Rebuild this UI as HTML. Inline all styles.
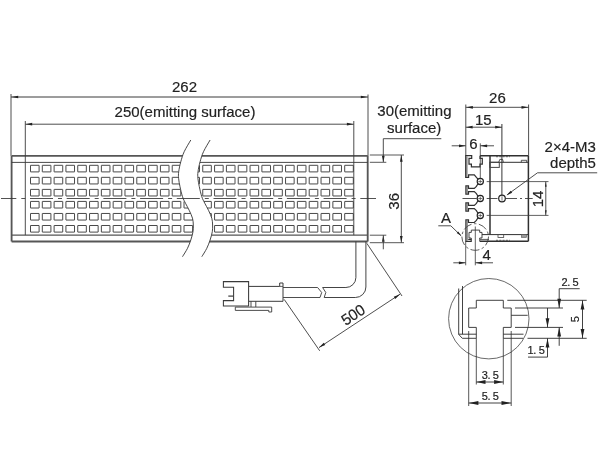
<!DOCTYPE html>
<html><head><meta charset="utf-8"><title>Dimension drawing</title>
<style>
html,body{margin:0;padding:0;background:#fff;}
body{width:600px;height:450px;overflow:hidden;}
svg{display:block;will-change:transform;filter:grayscale(1);}
text{font-family:"Liberation Sans",sans-serif;fill:#222;stroke:#222;stroke-width:0.18px;}
</style></head><body>
<svg width="600" height="450" viewBox="0 0 600 450">
<rect x="0" y="0" width="600" height="450" fill="#fff"/>
<line x1="11.60" y1="155.90" x2="367.70" y2="155.90" stroke="#565656" stroke-width="1.85" />
<line x1="11.60" y1="241.50" x2="367.70" y2="241.50" stroke="#565656" stroke-width="1.85" />
<line x1="11.60" y1="155.90" x2="11.60" y2="241.50" stroke="#565656" stroke-width="1.85" />
<line x1="367.70" y1="155.90" x2="367.70" y2="241.50" stroke="#565656" stroke-width="1.85" />
<line x1="11.60" y1="162.40" x2="367.70" y2="162.40" stroke="#333" stroke-width="0.9" />
<line x1="11.60" y1="235.10" x2="367.70" y2="235.10" stroke="#555" stroke-width="1.1" />
<defs><clipPath id="cl"><path d="M190.80,140.00 C189.70,141.95 185.87,148.08 184.20,151.70 C182.53,155.32 181.72,158.37 180.80,161.70 C179.88,165.03 179.07,168.93 178.70,171.70 C178.33,174.47 178.38,175.80 178.60,178.30 C178.82,180.80 179.35,183.63 180.00,186.70 C180.65,189.77 181.58,193.93 182.50,196.70 C183.42,199.47 184.38,201.03 185.50,203.30 C186.62,205.57 188.03,207.80 189.20,210.30 C190.37,212.80 191.82,215.85 192.50,218.30 C193.18,220.75 193.22,222.77 193.30,225.00 C193.38,227.23 193.42,229.20 193.00,231.70 C192.58,234.20 191.72,237.23 190.80,240.00 C189.88,242.77 188.88,245.52 187.50,248.30 C186.12,251.08 183.33,255.30 182.50,256.70 L0,256.7 L0,140 Z"/></clipPath><clipPath id="cr"><path d="M210.10,140.00 C209.00,141.95 205.17,148.08 203.50,151.70 C201.83,155.32 201.02,158.37 200.10,161.70 C199.18,165.03 198.37,168.93 198.00,171.70 C197.63,174.47 197.68,175.80 197.90,178.30 C198.12,180.80 198.65,183.63 199.30,186.70 C199.95,189.77 200.88,193.93 201.80,196.70 C202.72,199.47 203.68,201.03 204.80,203.30 C205.92,205.57 207.33,207.80 208.50,210.30 C209.67,212.80 211.12,215.85 211.80,218.30 C212.48,220.75 212.52,222.77 212.60,225.00 C212.68,227.23 212.72,229.20 212.30,231.70 C211.88,234.20 211.02,237.23 210.10,240.00 C209.18,242.77 208.18,245.52 206.80,248.30 C205.42,251.08 202.63,255.30 201.80,256.70 L400,256.7 L400,140 Z"/></clipPath></defs>
<g clip-path="url(#cl)" fill="none" stroke="#4a4a4a" stroke-width="1.0">
<rect x="30.50" y="165.30" width="8.6" height="6.6" rx="0.1"/>
<rect x="30.50" y="177.34" width="8.6" height="6.6" rx="0.1"/>
<rect x="30.50" y="189.38" width="8.6" height="6.6" rx="0.1"/>
<rect x="30.50" y="201.42" width="8.6" height="6.6" rx="0.1"/>
<rect x="30.50" y="213.46" width="8.6" height="6.6" rx="0.1"/>
<rect x="30.50" y="225.50" width="8.6" height="6.6" rx="0.1"/>
<rect x="42.31" y="165.30" width="8.6" height="6.6" rx="0.1"/>
<rect x="42.31" y="177.34" width="8.6" height="6.6" rx="0.1"/>
<rect x="42.31" y="189.38" width="8.6" height="6.6" rx="0.1"/>
<rect x="42.31" y="201.42" width="8.6" height="6.6" rx="0.1"/>
<rect x="42.31" y="213.46" width="8.6" height="6.6" rx="0.1"/>
<rect x="42.31" y="225.50" width="8.6" height="6.6" rx="0.1"/>
<rect x="54.12" y="165.30" width="8.6" height="6.6" rx="0.1"/>
<rect x="54.12" y="177.34" width="8.6" height="6.6" rx="0.1"/>
<rect x="54.12" y="189.38" width="8.6" height="6.6" rx="0.1"/>
<rect x="54.12" y="201.42" width="8.6" height="6.6" rx="0.1"/>
<rect x="54.12" y="213.46" width="8.6" height="6.6" rx="0.1"/>
<rect x="54.12" y="225.50" width="8.6" height="6.6" rx="0.1"/>
<rect x="65.93" y="165.30" width="8.6" height="6.6" rx="0.1"/>
<rect x="65.93" y="177.34" width="8.6" height="6.6" rx="0.1"/>
<rect x="65.93" y="189.38" width="8.6" height="6.6" rx="0.1"/>
<rect x="65.93" y="201.42" width="8.6" height="6.6" rx="0.1"/>
<rect x="65.93" y="213.46" width="8.6" height="6.6" rx="0.1"/>
<rect x="65.93" y="225.50" width="8.6" height="6.6" rx="0.1"/>
<rect x="77.74" y="165.30" width="8.6" height="6.6" rx="0.1"/>
<rect x="77.74" y="177.34" width="8.6" height="6.6" rx="0.1"/>
<rect x="77.74" y="189.38" width="8.6" height="6.6" rx="0.1"/>
<rect x="77.74" y="201.42" width="8.6" height="6.6" rx="0.1"/>
<rect x="77.74" y="213.46" width="8.6" height="6.6" rx="0.1"/>
<rect x="77.74" y="225.50" width="8.6" height="6.6" rx="0.1"/>
<rect x="89.55" y="165.30" width="8.6" height="6.6" rx="0.1"/>
<rect x="89.55" y="177.34" width="8.6" height="6.6" rx="0.1"/>
<rect x="89.55" y="189.38" width="8.6" height="6.6" rx="0.1"/>
<rect x="89.55" y="201.42" width="8.6" height="6.6" rx="0.1"/>
<rect x="89.55" y="213.46" width="8.6" height="6.6" rx="0.1"/>
<rect x="89.55" y="225.50" width="8.6" height="6.6" rx="0.1"/>
<rect x="101.36" y="165.30" width="8.6" height="6.6" rx="0.1"/>
<rect x="101.36" y="177.34" width="8.6" height="6.6" rx="0.1"/>
<rect x="101.36" y="189.38" width="8.6" height="6.6" rx="0.1"/>
<rect x="101.36" y="201.42" width="8.6" height="6.6" rx="0.1"/>
<rect x="101.36" y="213.46" width="8.6" height="6.6" rx="0.1"/>
<rect x="101.36" y="225.50" width="8.6" height="6.6" rx="0.1"/>
<rect x="113.17" y="165.30" width="8.6" height="6.6" rx="0.1"/>
<rect x="113.17" y="177.34" width="8.6" height="6.6" rx="0.1"/>
<rect x="113.17" y="189.38" width="8.6" height="6.6" rx="0.1"/>
<rect x="113.17" y="201.42" width="8.6" height="6.6" rx="0.1"/>
<rect x="113.17" y="213.46" width="8.6" height="6.6" rx="0.1"/>
<rect x="113.17" y="225.50" width="8.6" height="6.6" rx="0.1"/>
<rect x="124.98" y="165.30" width="8.6" height="6.6" rx="0.1"/>
<rect x="124.98" y="177.34" width="8.6" height="6.6" rx="0.1"/>
<rect x="124.98" y="189.38" width="8.6" height="6.6" rx="0.1"/>
<rect x="124.98" y="201.42" width="8.6" height="6.6" rx="0.1"/>
<rect x="124.98" y="213.46" width="8.6" height="6.6" rx="0.1"/>
<rect x="124.98" y="225.50" width="8.6" height="6.6" rx="0.1"/>
<rect x="136.79" y="165.30" width="8.6" height="6.6" rx="0.1"/>
<rect x="136.79" y="177.34" width="8.6" height="6.6" rx="0.1"/>
<rect x="136.79" y="189.38" width="8.6" height="6.6" rx="0.1"/>
<rect x="136.79" y="201.42" width="8.6" height="6.6" rx="0.1"/>
<rect x="136.79" y="213.46" width="8.6" height="6.6" rx="0.1"/>
<rect x="136.79" y="225.50" width="8.6" height="6.6" rx="0.1"/>
<rect x="148.60" y="165.30" width="8.6" height="6.6" rx="0.1"/>
<rect x="148.60" y="177.34" width="8.6" height="6.6" rx="0.1"/>
<rect x="148.60" y="189.38" width="8.6" height="6.6" rx="0.1"/>
<rect x="148.60" y="201.42" width="8.6" height="6.6" rx="0.1"/>
<rect x="148.60" y="213.46" width="8.6" height="6.6" rx="0.1"/>
<rect x="148.60" y="225.50" width="8.6" height="6.6" rx="0.1"/>
<rect x="160.41" y="165.30" width="8.6" height="6.6" rx="0.1"/>
<rect x="160.41" y="177.34" width="8.6" height="6.6" rx="0.1"/>
<rect x="160.41" y="189.38" width="8.6" height="6.6" rx="0.1"/>
<rect x="160.41" y="201.42" width="8.6" height="6.6" rx="0.1"/>
<rect x="160.41" y="213.46" width="8.6" height="6.6" rx="0.1"/>
<rect x="160.41" y="225.50" width="8.6" height="6.6" rx="0.1"/>
<rect x="172.22" y="165.30" width="8.6" height="6.6" rx="0.1"/>
<rect x="172.22" y="177.34" width="8.6" height="6.6" rx="0.1"/>
<rect x="172.22" y="189.38" width="8.6" height="6.6" rx="0.1"/>
<rect x="172.22" y="201.42" width="8.6" height="6.6" rx="0.1"/>
<rect x="172.22" y="213.46" width="8.6" height="6.6" rx="0.1"/>
<rect x="172.22" y="225.50" width="8.6" height="6.6" rx="0.1"/>
<rect x="184.03" y="165.30" width="8.6" height="6.6" rx="0.1"/>
<rect x="184.03" y="177.34" width="8.6" height="6.6" rx="0.1"/>
<rect x="184.03" y="189.38" width="8.6" height="6.6" rx="0.1"/>
<rect x="184.03" y="201.42" width="8.6" height="6.6" rx="0.1"/>
<rect x="184.03" y="213.46" width="8.6" height="6.6" rx="0.1"/>
<rect x="184.03" y="225.50" width="8.6" height="6.6" rx="0.1"/>
</g>
<g clip-path="url(#cr)" fill="none" stroke="#4a4a4a" stroke-width="1.0">
<rect x="344.70" y="165.30" width="8.6" height="6.6" rx="0.1"/>
<rect x="344.70" y="177.34" width="8.6" height="6.6" rx="0.1"/>
<rect x="344.70" y="189.38" width="8.6" height="6.6" rx="0.1"/>
<rect x="344.70" y="201.42" width="8.6" height="6.6" rx="0.1"/>
<rect x="344.70" y="213.46" width="8.6" height="6.6" rx="0.1"/>
<rect x="344.70" y="225.50" width="8.6" height="6.6" rx="0.1"/>
<rect x="332.87" y="165.30" width="8.6" height="6.6" rx="0.1"/>
<rect x="332.87" y="177.34" width="8.6" height="6.6" rx="0.1"/>
<rect x="332.87" y="189.38" width="8.6" height="6.6" rx="0.1"/>
<rect x="332.87" y="201.42" width="8.6" height="6.6" rx="0.1"/>
<rect x="332.87" y="213.46" width="8.6" height="6.6" rx="0.1"/>
<rect x="332.87" y="225.50" width="8.6" height="6.6" rx="0.1"/>
<rect x="321.04" y="165.30" width="8.6" height="6.6" rx="0.1"/>
<rect x="321.04" y="177.34" width="8.6" height="6.6" rx="0.1"/>
<rect x="321.04" y="189.38" width="8.6" height="6.6" rx="0.1"/>
<rect x="321.04" y="201.42" width="8.6" height="6.6" rx="0.1"/>
<rect x="321.04" y="213.46" width="8.6" height="6.6" rx="0.1"/>
<rect x="321.04" y="225.50" width="8.6" height="6.6" rx="0.1"/>
<rect x="309.21" y="165.30" width="8.6" height="6.6" rx="0.1"/>
<rect x="309.21" y="177.34" width="8.6" height="6.6" rx="0.1"/>
<rect x="309.21" y="189.38" width="8.6" height="6.6" rx="0.1"/>
<rect x="309.21" y="201.42" width="8.6" height="6.6" rx="0.1"/>
<rect x="309.21" y="213.46" width="8.6" height="6.6" rx="0.1"/>
<rect x="309.21" y="225.50" width="8.6" height="6.6" rx="0.1"/>
<rect x="297.38" y="165.30" width="8.6" height="6.6" rx="0.1"/>
<rect x="297.38" y="177.34" width="8.6" height="6.6" rx="0.1"/>
<rect x="297.38" y="189.38" width="8.6" height="6.6" rx="0.1"/>
<rect x="297.38" y="201.42" width="8.6" height="6.6" rx="0.1"/>
<rect x="297.38" y="213.46" width="8.6" height="6.6" rx="0.1"/>
<rect x="297.38" y="225.50" width="8.6" height="6.6" rx="0.1"/>
<rect x="285.55" y="165.30" width="8.6" height="6.6" rx="0.1"/>
<rect x="285.55" y="177.34" width="8.6" height="6.6" rx="0.1"/>
<rect x="285.55" y="189.38" width="8.6" height="6.6" rx="0.1"/>
<rect x="285.55" y="201.42" width="8.6" height="6.6" rx="0.1"/>
<rect x="285.55" y="213.46" width="8.6" height="6.6" rx="0.1"/>
<rect x="285.55" y="225.50" width="8.6" height="6.6" rx="0.1"/>
<rect x="273.72" y="165.30" width="8.6" height="6.6" rx="0.1"/>
<rect x="273.72" y="177.34" width="8.6" height="6.6" rx="0.1"/>
<rect x="273.72" y="189.38" width="8.6" height="6.6" rx="0.1"/>
<rect x="273.72" y="201.42" width="8.6" height="6.6" rx="0.1"/>
<rect x="273.72" y="213.46" width="8.6" height="6.6" rx="0.1"/>
<rect x="273.72" y="225.50" width="8.6" height="6.6" rx="0.1"/>
<rect x="261.89" y="165.30" width="8.6" height="6.6" rx="0.1"/>
<rect x="261.89" y="177.34" width="8.6" height="6.6" rx="0.1"/>
<rect x="261.89" y="189.38" width="8.6" height="6.6" rx="0.1"/>
<rect x="261.89" y="201.42" width="8.6" height="6.6" rx="0.1"/>
<rect x="261.89" y="213.46" width="8.6" height="6.6" rx="0.1"/>
<rect x="261.89" y="225.50" width="8.6" height="6.6" rx="0.1"/>
<rect x="250.06" y="165.30" width="8.6" height="6.6" rx="0.1"/>
<rect x="250.06" y="177.34" width="8.6" height="6.6" rx="0.1"/>
<rect x="250.06" y="189.38" width="8.6" height="6.6" rx="0.1"/>
<rect x="250.06" y="201.42" width="8.6" height="6.6" rx="0.1"/>
<rect x="250.06" y="213.46" width="8.6" height="6.6" rx="0.1"/>
<rect x="250.06" y="225.50" width="8.6" height="6.6" rx="0.1"/>
<rect x="238.23" y="165.30" width="8.6" height="6.6" rx="0.1"/>
<rect x="238.23" y="177.34" width="8.6" height="6.6" rx="0.1"/>
<rect x="238.23" y="189.38" width="8.6" height="6.6" rx="0.1"/>
<rect x="238.23" y="201.42" width="8.6" height="6.6" rx="0.1"/>
<rect x="238.23" y="213.46" width="8.6" height="6.6" rx="0.1"/>
<rect x="238.23" y="225.50" width="8.6" height="6.6" rx="0.1"/>
<rect x="226.40" y="165.30" width="8.6" height="6.6" rx="0.1"/>
<rect x="226.40" y="177.34" width="8.6" height="6.6" rx="0.1"/>
<rect x="226.40" y="189.38" width="8.6" height="6.6" rx="0.1"/>
<rect x="226.40" y="201.42" width="8.6" height="6.6" rx="0.1"/>
<rect x="226.40" y="213.46" width="8.6" height="6.6" rx="0.1"/>
<rect x="226.40" y="225.50" width="8.6" height="6.6" rx="0.1"/>
<rect x="214.57" y="165.30" width="8.6" height="6.6" rx="0.1"/>
<rect x="214.57" y="177.34" width="8.6" height="6.6" rx="0.1"/>
<rect x="214.57" y="189.38" width="8.6" height="6.6" rx="0.1"/>
<rect x="214.57" y="201.42" width="8.6" height="6.6" rx="0.1"/>
<rect x="214.57" y="213.46" width="8.6" height="6.6" rx="0.1"/>
<rect x="214.57" y="225.50" width="8.6" height="6.6" rx="0.1"/>
<rect x="202.74" y="165.30" width="8.6" height="6.6" rx="0.1"/>
<rect x="202.74" y="177.34" width="8.6" height="6.6" rx="0.1"/>
<rect x="202.74" y="189.38" width="8.6" height="6.6" rx="0.1"/>
<rect x="202.74" y="201.42" width="8.6" height="6.6" rx="0.1"/>
<rect x="202.74" y="213.46" width="8.6" height="6.6" rx="0.1"/>
<rect x="202.74" y="225.50" width="8.6" height="6.6" rx="0.1"/>
<rect x="190.91" y="165.30" width="8.6" height="6.6" rx="0.1"/>
<rect x="190.91" y="177.34" width="8.6" height="6.6" rx="0.1"/>
<rect x="190.91" y="189.38" width="8.6" height="6.6" rx="0.1"/>
<rect x="190.91" y="201.42" width="8.6" height="6.6" rx="0.1"/>
<rect x="190.91" y="213.46" width="8.6" height="6.6" rx="0.1"/>
<rect x="190.91" y="225.50" width="8.6" height="6.6" rx="0.1"/>
</g>
<path d="M190.80,140.00 C189.70,141.95 185.87,148.08 184.20,151.70 C182.53,155.32 181.72,158.37 180.80,161.70 C179.88,165.03 179.07,168.93 178.70,171.70 C178.33,174.47 178.38,175.80 178.60,178.30 C178.82,180.80 179.35,183.63 180.00,186.70 C180.65,189.77 181.58,193.93 182.50,196.70 C183.42,199.47 184.38,201.03 185.50,203.30 C186.62,205.57 188.03,207.80 189.20,210.30 C190.37,212.80 191.82,215.85 192.50,218.30 C193.18,220.75 193.22,222.77 193.30,225.00 C193.38,227.23 193.42,229.20 193.00,231.70 C192.58,234.20 191.72,237.23 190.80,240.00 C189.88,242.77 188.88,245.52 187.50,248.30 C186.12,251.08 183.33,255.30 182.50,256.70 L201.80,256.70 C202.63,255.30 205.42,251.08 206.80,248.30 C208.18,245.52 209.18,242.77 210.10,240.00 C211.02,237.23 211.88,234.20 212.30,231.70 C212.72,229.20 212.68,227.23 212.60,225.00 C212.52,222.77 212.48,220.75 211.80,218.30 C211.12,215.85 209.67,212.80 208.50,210.30 C207.33,207.80 205.92,205.57 204.80,203.30 C203.68,201.03 202.72,199.47 201.80,196.70 C200.88,193.93 199.95,189.77 199.30,186.70 C198.65,183.63 198.12,180.80 197.90,178.30 C197.68,175.80 197.63,174.47 198.00,171.70 C198.37,168.93 199.18,165.03 200.10,161.70 C201.02,158.37 201.83,155.32 203.50,151.70 C205.17,148.08 209.00,141.95 210.10,140.00 Z" stroke="none" stroke-width="0" fill="#fff" />
<path d="M190.80,140.00 C189.70,141.95 185.87,148.08 184.20,151.70 C182.53,155.32 181.72,158.37 180.80,161.70 C179.88,165.03 179.07,168.93 178.70,171.70 C178.33,174.47 178.38,175.80 178.60,178.30 C178.82,180.80 179.35,183.63 180.00,186.70 C180.65,189.77 181.58,193.93 182.50,196.70 C183.42,199.47 184.38,201.03 185.50,203.30 C186.62,205.57 188.03,207.80 189.20,210.30 C190.37,212.80 191.82,215.85 192.50,218.30 C193.18,220.75 193.22,222.77 193.30,225.00 C193.38,227.23 193.42,229.20 193.00,231.70 C192.58,234.20 191.72,237.23 190.80,240.00 C189.88,242.77 188.88,245.52 187.50,248.30 C186.12,251.08 183.33,255.30 182.50,256.70" stroke="#333" stroke-width="0.9" fill="none" />
<path d="M210.10,140.00 C209.00,141.95 205.17,148.08 203.50,151.70 C201.83,155.32 201.02,158.37 200.10,161.70 C199.18,165.03 198.37,168.93 198.00,171.70 C197.63,174.47 197.68,175.80 197.90,178.30 C198.12,180.80 198.65,183.63 199.30,186.70 C199.95,189.77 200.88,193.93 201.80,196.70 C202.72,199.47 203.68,201.03 204.80,203.30 C205.92,205.57 207.33,207.80 208.50,210.30 C209.67,212.80 211.12,215.85 211.80,218.30 C212.48,220.75 212.52,222.77 212.60,225.00 C212.68,227.23 212.72,229.20 212.30,231.70 C211.88,234.20 211.02,237.23 210.10,240.00 C209.18,242.77 208.18,245.52 206.80,248.30 C205.42,251.08 202.63,255.30 201.80,256.70" stroke="#333" stroke-width="0.9" fill="none" />
<line x1="-6.70" y1="198.50" x2="376.00" y2="198.50" stroke="#333" stroke-width="0.85" stroke-dasharray="23 5 4 4.7"/>
<line x1="-1.00" y1="198.50" x2="1.00" y2="198.50" stroke="#fff" stroke-width="2" />
<line x1="11.00" y1="94.00" x2="11.00" y2="155.90" stroke="#3a3a3a" stroke-width="0.9" />
<line x1="368.00" y1="94.50" x2="368.00" y2="155.90" stroke="#3a3a3a" stroke-width="0.9" />
<line x1="11.00" y1="97.00" x2="368.00" y2="97.00" stroke="#3a3a3a" stroke-width="1.0" />
<polygon points="11.60,97.00 18.20,95.65 18.20,98.35" fill="#222"/>
<polygon points="367.40,97.00 360.80,98.35 360.80,95.65" fill="#222"/>
<line x1="25.30" y1="121.00" x2="25.30" y2="235.10" stroke="#3a3a3a" stroke-width="0.9" />
<line x1="353.80" y1="121.00" x2="353.80" y2="235.10" stroke="#3a3a3a" stroke-width="0.9" />
<line x1="25.30" y1="124.20" x2="353.80" y2="124.20" stroke="#3a3a3a" stroke-width="0.9" />
<polygon points="25.60,124.20 32.20,122.85 32.20,125.55" fill="#222"/>
<polygon points="353.50,124.20 346.90,125.55 346.90,122.85" fill="#222"/>
<text transform="translate(184.50 91.60) scale(0.968 1)" font-size="15.5" text-anchor="middle" >262</text>
<text transform="translate(185.00 116.70) scale(0.968 1)" font-size="15.5" text-anchor="middle" >250(emitting surface)</text>
<line x1="369.80" y1="155.00" x2="404.00" y2="155.00" stroke="#3a3a3a" stroke-width="0.85" />
<line x1="369.80" y1="242.70" x2="404.00" y2="242.70" stroke="#3a3a3a" stroke-width="0.85" />
<line x1="369.80" y1="162.30" x2="386.30" y2="162.30" stroke="#3a3a3a" stroke-width="0.85" />
<line x1="369.80" y1="235.20" x2="386.30" y2="235.20" stroke="#3a3a3a" stroke-width="0.85" />
<line x1="383.30" y1="138.70" x2="383.30" y2="162.00" stroke="#3a3a3a" stroke-width="0.9" />
<line x1="383.30" y1="138.70" x2="441.30" y2="138.70" stroke="#3a3a3a" stroke-width="0.9" />
<polygon points="383.30,162.30 381.95,155.70 384.65,155.70" fill="#222"/>
<polygon points="383.30,235.20 384.65,241.80 381.95,241.80" fill="#222"/>
<line x1="383.30" y1="235.20" x2="383.30" y2="249.30" stroke="#3a3a3a" stroke-width="0.9" />
<text transform="translate(414.40 115.80) scale(0.968 1)" font-size="15.5" text-anchor="middle" >30(emitting</text>
<text transform="translate(414.20 133.40) scale(0.968 1)" font-size="15.5" text-anchor="middle" >surface)</text>
<line x1="401.30" y1="155.00" x2="401.30" y2="242.70" stroke="#3a3a3a" stroke-width="0.9" />
<polygon points="401.30,155.20 402.65,161.80 399.95,161.80" fill="#222"/>
<polygon points="401.30,242.50 399.95,235.90 402.65,235.90" fill="#222"/>
<text transform="translate(399.00 201.30) rotate(-90) scale(0.968 1)" font-size="15.5" text-anchor="middle" >36</text>
<path d="M355.9,241.5 L355.9,277.5 A10,10 0 0 1 345.9,287.5 L322.6,287.5" stroke="#3a3a3a" stroke-width="0.95" fill="none" />
<path d="M365.9,241.5 L365.9,287.0 A10.5,10.5 0 0 1 355.4,297.5 L324.2,297.5" stroke="#3a3a3a" stroke-width="0.95" fill="none" />
<path d="M322.60,287.50 L325.80,292.50 L324.20,297.50" stroke="#3a3a3a" stroke-width="0.9" fill="none" />
<path d="M317.60,287.50 L321.70,292.50 L320.00,297.50" stroke="#3a3a3a" stroke-width="0.9" fill="none" />
<line x1="283.00" y1="287.50" x2="317.60" y2="287.50" stroke="#3a3a3a" stroke-width="0.9" />
<line x1="283.00" y1="297.50" x2="320.00" y2="297.50" stroke="#3a3a3a" stroke-width="0.9" />
<path d="M223.40,281.60 L248.60,281.60 L248.60,306.00 L223.40,306.00 L223.40,300.60 L233.60,300.60 L233.60,287.20 L223.40,287.20 Z" stroke="#3a3a3a" stroke-width="1.05" fill="none" />
<line x1="228.30" y1="296.10" x2="233.30" y2="296.10" stroke="#3a3a3a" stroke-width="1.2" />
<path d="M248.70,286.40 L279.70,286.40 L279.70,283.00 L283.00,283.00 L283.00,301.30 L248.70,301.30" stroke="#3a3a3a" stroke-width="1.0" fill="none" />
<line x1="279.70" y1="286.40" x2="283.00" y2="286.40" stroke="#3a3a3a" stroke-width="0.8" />
<path d="M251.00,301.30 L251.00,307.00" stroke="#3a3a3a" stroke-width="0.9" fill="none" />
<path d="M255.80,301.30 L255.80,307.00" stroke="#3a3a3a" stroke-width="0.9" fill="none" />
<path d="M235.30,307.10 L271.70,307.10 L271.70,312.00 L268.80,312.00 L268.80,310.40 L235.30,310.40 Z" stroke="#3a3a3a" stroke-width="0.9" fill="none" />
<line x1="284.20" y1="299.40" x2="319.70" y2="350.80" stroke="#3a3a3a" stroke-width="0.9" />
<line x1="366.80" y1="243.30" x2="402.00" y2="296.00" stroke="#3a3a3a" stroke-width="0.9" />
<line x1="319.00" y1="347.60" x2="400.00" y2="294.20" stroke="#3a3a3a" stroke-width="0.9" />
<polygon points="319.00,347.60 323.77,342.84 325.25,345.09" fill="#222"/>
<polygon points="400.00,294.20 395.23,298.96 393.75,296.71" fill="#222"/>
<text transform="translate(356.10 319.20) rotate(-33.4) scale(0.968 1)" font-size="15.5" text-anchor="middle" >500</text>
<path d="M480.00,155.70 L480.00,158.30 L482.30,158.30 L482.30,164.20 L480.00,164.20 L480.00,166.80 L471.40,166.80 L471.40,164.20 L469.00,164.20 L469.00,158.30 L471.70,158.30 L471.70,155.70 L465.70,155.70 L465.70,177.30 L468.60,177.30 L468.60,174.80 L474.30,174.80 L476.60,177.60 L478.00,179.00" stroke="#303030" stroke-width="1.2" fill="none" />
<line x1="466.90" y1="156.50" x2="466.90" y2="176.80" stroke="#555" stroke-width="1.0" />
<path d="M478.00,183.70 L476.40,186.40 L474.30,188.40 L468.50,188.40 L468.50,185.80 L465.90,185.80 L465.90,194.20 L468.50,194.20 L468.50,191.60 L474.30,191.60 L476.40,193.60 L478.00,196.30" stroke="#303030" stroke-width="1.2" fill="none" />
<line x1="467.10" y1="186.20" x2="467.10" y2="193.80" stroke="#555" stroke-width="1.0" />
<path d="M478.00,200.70 L476.40,203.40 L474.30,205.40 L468.50,205.40 L468.50,202.80 L465.90,202.80 L465.90,211.20 L468.50,211.20 L468.50,208.60 L474.30,208.60 L476.40,210.60 L478.00,213.30" stroke="#303030" stroke-width="1.2" fill="none" />
<line x1="467.10" y1="203.20" x2="467.10" y2="210.80" stroke="#555" stroke-width="1.0" />
<path d="M478.00,217.80 L476.40,220.40 L474.30,222.50 L468.50,222.50 L468.50,219.80 L465.90,219.80 L465.90,241.30 L471.20,241.30 L471.20,239.30 L468.20,239.30" stroke="#303030" stroke-width="1.2" fill="none" />
<line x1="467.10" y1="220.50" x2="467.10" y2="240.50" stroke="#555" stroke-width="1.0" />
<circle cx="480.3" cy="181.5" r="3.1" fill="#fff" stroke="#222" stroke-width="1.2"/>
<line x1="480.30" y1="179.50" x2="480.30" y2="183.50" stroke="#444" stroke-width="0.7" />
<line x1="478.30" y1="181.50" x2="482.30" y2="181.50" stroke="#444" stroke-width="0.7" />
<circle cx="480.3" cy="198.5" r="3.1" fill="#fff" stroke="#222" stroke-width="1.2"/>
<line x1="480.30" y1="196.50" x2="480.30" y2="200.50" stroke="#444" stroke-width="0.7" />
<line x1="478.30" y1="198.50" x2="482.30" y2="198.50" stroke="#444" stroke-width="0.7" />
<circle cx="480.3" cy="215.5" r="3.1" fill="#fff" stroke="#222" stroke-width="1.2"/>
<line x1="480.30" y1="213.50" x2="480.30" y2="217.50" stroke="#444" stroke-width="0.7" />
<line x1="478.30" y1="215.50" x2="482.30" y2="215.50" stroke="#444" stroke-width="0.7" />
<line x1="480.00" y1="155.70" x2="528.40" y2="155.70" stroke="#303030" stroke-width="1.5" />
<line x1="490.00" y1="155.70" x2="490.00" y2="234.60" stroke="#303030" stroke-width="1.5" />
<line x1="528.40" y1="155.70" x2="528.40" y2="241.30" stroke="#303030" stroke-width="1.5" />
<line x1="489.80" y1="162.30" x2="528.40" y2="162.30" stroke="#303030" stroke-width="1.0" />
<rect x="489.8" y="162.3" width="9.5" height="5.1" fill="none" stroke="#444" stroke-width="1.0"/>
<path d="M498.70,162.30 L499.80,159.40 L502.60,159.40 L503.40,162.30" stroke="#303030" stroke-width="0.8" fill="none" />
<path d="M521.30,162.30 L521.30,160.30 L526.70,160.30 L526.70,162.30" stroke="#303030" stroke-width="0.8" fill="none" />
<line x1="496.00" y1="156.70" x2="510.00" y2="156.70" stroke="#555" stroke-width="1.0" stroke-dasharray="2 1.3"/>
<line x1="482.00" y1="234.60" x2="528.40" y2="234.60" stroke="#303030" stroke-width="1.0" />
<line x1="479.70" y1="241.30" x2="528.40" y2="241.30" stroke="#303030" stroke-width="1.5" />
<line x1="479.70" y1="239.40" x2="489.00" y2="239.40" stroke="#303030" stroke-width="0.8" />
<line x1="479.70" y1="239.40" x2="479.70" y2="241.30" stroke="#303030" stroke-width="0.8" />
<line x1="496.00" y1="240.30" x2="510.00" y2="240.30" stroke="#555" stroke-width="1.0" stroke-dasharray="2 1.3"/>
<rect x="498" y="234.6" width="5.7" height="2.9" fill="none" stroke="#444" stroke-width="0.8"/>
<rect x="521.3" y="234.6" width="5.2" height="2.9" fill="#999" stroke="#555" stroke-width="0.6"/>
<path d="M471.20,239.30 L471.20,238.00 L469.00,238.00 L469.00,232.40 L471.30,232.40 L471.30,230.10 L479.70,230.10 L479.70,232.40 L482.00,232.40 L482.00,238.00 L479.70,238.00 L479.70,239.40" stroke="#303030" stroke-width="0.9" fill="none" />
<circle cx="475.2" cy="237.0" r="13.3" fill="none" stroke="#333" stroke-width="0.8" stroke-dasharray="9 2.5 2.5 2.5"/>
<line x1="462.50" y1="198.50" x2="476.80" y2="198.50" stroke="#333" stroke-width="0.85" />
<line x1="486.70" y1="198.50" x2="497.50" y2="198.50" stroke="#333" stroke-width="0.85" />
<line x1="505.60" y1="198.50" x2="517.00" y2="198.50" stroke="#333" stroke-width="0.85" />
<line x1="520.00" y1="198.50" x2="522.00" y2="198.50" stroke="#333" stroke-width="0.85" />
<line x1="525.00" y1="198.50" x2="532.70" y2="198.50" stroke="#333" stroke-width="0.85" />
<line x1="486.70" y1="181.60" x2="548.50" y2="181.60" stroke="#3a3a3a" stroke-width="0.8" />
<line x1="486.70" y1="215.40" x2="548.50" y2="215.40" stroke="#3a3a3a" stroke-width="0.8" />
<line x1="501.90" y1="124.00" x2="501.90" y2="195.30" stroke="#2a2a2a" stroke-width="0.95" />
<circle cx="502" cy="198.5" r="3.3" fill="none" stroke="#222" stroke-width="1.2"/>
<line x1="502.00" y1="196.30" x2="502.00" y2="200.70" stroke="#3a3a3a" stroke-width="0.7" />
<line x1="465.80" y1="104.50" x2="465.80" y2="155.70" stroke="#3a3a3a" stroke-width="0.9" />
<line x1="528.60" y1="104.50" x2="528.60" y2="155.70" stroke="#3a3a3a" stroke-width="0.9" />
<line x1="465.80" y1="107.30" x2="528.60" y2="107.30" stroke="#3a3a3a" stroke-width="0.9" />
<polygon points="466.30,107.30 472.90,105.95 472.90,108.65" fill="#222"/>
<polygon points="528.10,107.30 521.50,108.65 521.50,105.95" fill="#222"/>
<text transform="translate(497.40 103.00) scale(0.968 1)" font-size="15.5" text-anchor="middle" >26</text>
<line x1="465.80" y1="127.20" x2="502.00" y2="127.20" stroke="#3a3a3a" stroke-width="0.9" />
<polygon points="466.00,127.20 472.60,125.85 472.60,128.55" fill="#222"/>
<polygon points="501.80,127.20 495.20,128.55 495.20,125.85" fill="#222"/>
<text transform="translate(483.30 125.40) scale(0.968 1)" font-size="15.5" text-anchor="middle" >15</text>
<line x1="480.30" y1="143.30" x2="480.30" y2="178.50" stroke="#3a3a3a" stroke-width="0.8" />
<line x1="451.70" y1="145.80" x2="465.80" y2="145.80" stroke="#3a3a3a" stroke-width="0.9" />
<polygon points="465.60,145.80 459.00,147.15 459.00,144.45" fill="#222"/>
<line x1="480.30" y1="145.80" x2="494.00" y2="145.80" stroke="#3a3a3a" stroke-width="0.9" />
<polygon points="480.50,145.80 487.10,144.45 487.10,147.15" fill="#222"/>
<text transform="translate(473.30 148.60) scale(0.968 1)" font-size="15.5" text-anchor="middle" >6</text>
<line x1="545.80" y1="181.60" x2="545.80" y2="215.40" stroke="#3a3a3a" stroke-width="0.9" />
<polygon points="545.80,181.80 546.60,186.80 545.00,186.80" fill="#222"/>
<polygon points="545.80,215.20 545.00,210.20 546.60,210.20" fill="#222"/>
<text transform="translate(543.10 199.00) rotate(-90) scale(0.968 1)" font-size="15.5" text-anchor="middle" >14</text>
<line x1="537.50" y1="172.80" x2="597.20" y2="172.80" stroke="#3a3a3a" stroke-width="0.9" />
<line x1="537.50" y1="172.80" x2="507.20" y2="194.80" stroke="#3a3a3a" stroke-width="0.9" />
<polygon points="506.60,195.30 510.74,190.80 512.16,192.74" fill="#222"/>
<text transform="translate(570.20 151.70) scale(0.968 1)" font-size="15.5" text-anchor="middle" >2×4-M3</text>
<text transform="translate(573.00 168.00) scale(0.968 1)" font-size="15.5" text-anchor="middle" >depth5</text>
<text transform="translate(446.00 223.30) scale(0.968 1)" font-size="15.5" text-anchor="middle" >A</text>
<line x1="438.30" y1="225.80" x2="450.80" y2="225.80" stroke="#3a3a3a" stroke-width="0.9" />
<line x1="450.80" y1="225.80" x2="461.00" y2="235.70" stroke="#3a3a3a" stroke-width="0.9" />
<polygon points="461.40,236.10 456.69,233.06 458.22,231.48" fill="#222"/>
<line x1="465.70" y1="241.30" x2="465.70" y2="265.30" stroke="#3a3a3a" stroke-width="0.8" />
<line x1="475.30" y1="226.50" x2="475.30" y2="265.30" stroke="#3a3a3a" stroke-width="0.8" />
<line x1="453.30" y1="262.80" x2="465.70" y2="262.80" stroke="#3a3a3a" stroke-width="0.9" />
<polygon points="465.50,262.80 458.90,264.15 458.90,261.45" fill="#222"/>
<line x1="475.30" y1="262.80" x2="493.00" y2="262.80" stroke="#3a3a3a" stroke-width="0.9" />
<polygon points="475.50,262.80 482.10,261.45 482.10,264.15" fill="#222"/>
<text transform="translate(486.60 259.70) scale(0.968 1)" font-size="15.5" text-anchor="middle" >4</text>
<circle cx="488.8" cy="318.7" r="40.2" fill="none" stroke="#444" stroke-width="0.8"/>
<path d="M476.30,338.30 L476.30,327.40 L468.70,327.40 L468.70,308.00 L476.30,308.00 L476.30,300.30 L503.30,300.30 L503.30,308.00 L511.20,308.00 L511.20,327.40 L503.30,327.40 L503.30,338.30" stroke="#2c2c2c" stroke-width="0.9" fill="none" />
<line x1="458.70" y1="288.50" x2="458.70" y2="334.40" stroke="#2c2c2c" stroke-width="0.9" />
<line x1="462.50" y1="286.00" x2="462.50" y2="334.20" stroke="#2c2c2c" stroke-width="0.9" />
<path d="M458.70,334.40 L462.30,338.30 L476.30,338.30" stroke="#2c2c2c" stroke-width="0.9" fill="none" />
<line x1="458.70" y1="334.20" x2="476.30" y2="334.20" stroke="#2c2c2c" stroke-width="0.9" />
<line x1="503.30" y1="334.20" x2="523.50" y2="334.20" stroke="#2c2c2c" stroke-width="0.9" />
<line x1="503.30" y1="338.30" x2="523.00" y2="338.30" stroke="#2c2c2c" stroke-width="0.9" />
<line x1="527.50" y1="338.30" x2="586.70" y2="338.30" stroke="#2c2c2c" stroke-width="0.9" />
<line x1="507.30" y1="300.30" x2="586.70" y2="300.30" stroke="#2c2c2c" stroke-width="0.9" />
<line x1="515.00" y1="308.00" x2="563.00" y2="308.00" stroke="#2c2c2c" stroke-width="0.9" />
<line x1="511.20" y1="315.30" x2="527.70" y2="315.30" stroke="#2c2c2c" stroke-width="0.9" />
<line x1="515.00" y1="327.40" x2="563.00" y2="327.40" stroke="#2c2c2c" stroke-width="0.9" />
<line x1="468.70" y1="331.00" x2="468.70" y2="406.00" stroke="#2c2c2c" stroke-width="0.8" />
<line x1="511.20" y1="331.00" x2="511.20" y2="406.00" stroke="#2c2c2c" stroke-width="0.8" />
<line x1="476.30" y1="338.30" x2="476.30" y2="384.50" stroke="#2c2c2c" stroke-width="0.8" />
<line x1="503.30" y1="338.30" x2="503.30" y2="384.50" stroke="#2c2c2c" stroke-width="0.8" />
<line x1="476.30" y1="382.00" x2="503.30" y2="382.00" stroke="#2c2c2c" stroke-width="0.9" />
<polygon points="476.50,382.00 485.50,380.10 485.50,383.90" fill="#222"/>
<polygon points="503.10,382.00 494.10,383.90 494.10,380.10" fill="#222"/>
<line x1="468.70" y1="403.00" x2="511.20" y2="403.00" stroke="#2c2c2c" stroke-width="0.9" />
<polygon points="468.90,403.00 478.40,401.05 478.40,404.95" fill="#222"/>
<polygon points="511.00,403.00 501.50,404.95 501.50,401.05" fill="#222"/>
<text transform="translate(481.70 378.70)" font-size="11" text-anchor="start" letter-spacing="-0.4" >3. 5</text>
<text transform="translate(481.70 400.30)" font-size="11" text-anchor="start" letter-spacing="-0.4" >5. 5</text>
<line x1="559.20" y1="288.70" x2="579.70" y2="288.70" stroke="#2c2c2c" stroke-width="0.9" />
<line x1="559.20" y1="288.70" x2="559.20" y2="308.00" stroke="#2c2c2c" stroke-width="0.9" />
<polygon points="559.20,307.80 557.30,298.80 561.10,298.80" fill="#222"/>
<line x1="559.20" y1="327.40" x2="559.20" y2="345.80" stroke="#2c2c2c" stroke-width="0.9" />
<polygon points="559.20,327.60 561.10,336.60 557.30,336.60" fill="#222"/>
<text transform="translate(561.50 286.00)" font-size="11" text-anchor="start" letter-spacing="-0.4" >2. 5</text>
<line x1="547.50" y1="308.00" x2="547.50" y2="327.40" stroke="#2c2c2c" stroke-width="0.9" />
<polygon points="547.50,327.20 545.60,318.20 549.40,318.20" fill="#222"/>
<line x1="547.50" y1="338.30" x2="547.50" y2="357.10" stroke="#2c2c2c" stroke-width="0.9" />
<polygon points="547.50,338.50 549.40,347.50 545.60,347.50" fill="#222"/>
<line x1="528.00" y1="357.10" x2="547.50" y2="357.10" stroke="#2c2c2c" stroke-width="0.9" />
<text transform="translate(527.60 354.30)" font-size="11" text-anchor="start" letter-spacing="-0.4" >1. 5</text>
<line x1="582.50" y1="300.30" x2="582.50" y2="338.30" stroke="#2c2c2c" stroke-width="0.9" />
<polygon points="582.50,300.50 584.40,309.50 580.60,309.50" fill="#222"/>
<polygon points="582.50,338.10 580.60,329.10 584.40,329.10" fill="#222"/>
<text transform="translate(578.80 319.30) rotate(-90)" font-size="11" text-anchor="middle" >5</text>
</svg>
</body></html>
